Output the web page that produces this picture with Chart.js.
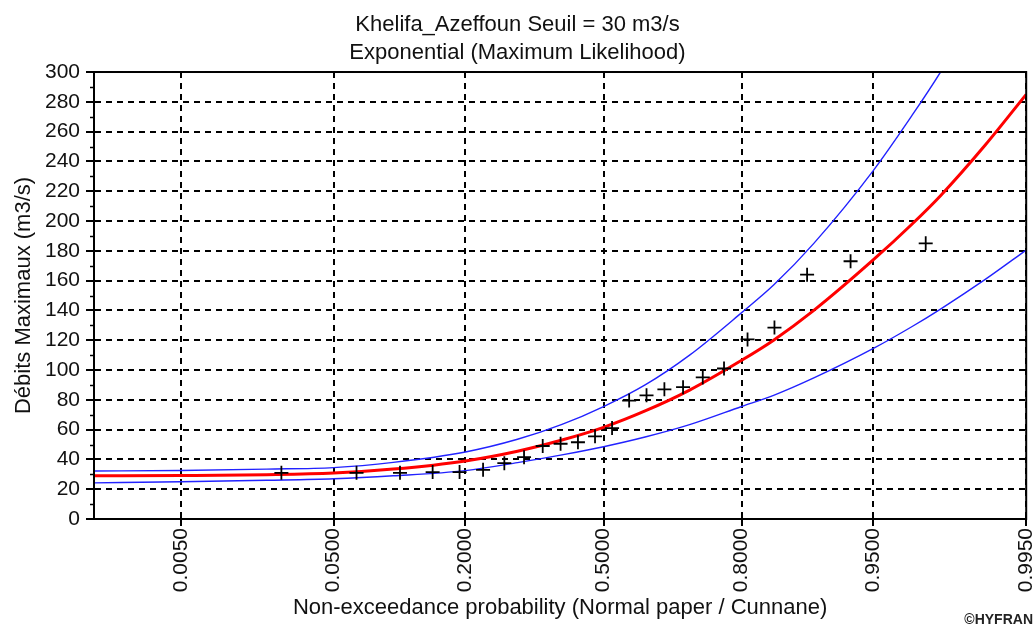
<!DOCTYPE html>
<html lang="fr">
<head>
<meta charset="UTF-8">
<title>Khelifa_Azeffoun - Exponential</title>
<style>
  html, body { margin: 0; padding: 0; background: #fff; }
  #chart { display: block; }
</style>
<script src="https://cdn.jsdelivr.net/npm/chart.js"></script>
</head>
<body>
<canvas id="chart" width="1035" height="627"></canvas>
<script>
const probTicks = [0.005, 0.05, 0.2, 0.5, 0.8, 0.95, 0.995];
const xRangeProb = [0.00095, 0.995];
const minorY = [10, 30, 50, 70, 90, 110, 130, 150, 170, 190, 210, 230, 250, 270, 290];

// observations (débits maximaux, m3/s)
const obsProb = [0.0248, 0.0661, 0.1074, 0.1488, 0.1901, 0.2314, 0.2727, 0.3140,
  0.3554, 0.3967, 0.4380, 0.4793, 0.5207, 0.5620, 0.6033, 0.6446,
  0.6860, 0.7273, 0.7686, 0.8099, 0.8512, 0.8926, 0.9339, 0.9752];
const obsFlow = [31, 31, 31, 31.5, 31.5, 33, 37.5, 41.5,
  49, 50.5, 51.5, 55.5, 61, 79.5, 83, 87,
  88.5, 95, 101, 120.5, 128.5, 164, 173, 185];

// courbe ajustée et intervalle de confiance
const curveProb = [0.0009, 0.005, 0.02, 0.05, 0.1, 0.2, 0.3, 0.4, 0.5, 0.6,
  0.7, 0.8, 0.85, 0.9, 0.95, 0.97, 0.98, 0.99, 0.995];
const fitted = [29, 29.2, 29.7, 30.8, 33.5, 39, 45.5, 53, 61.5, 72.5,
  86.5, 106.5, 120, 140, 174, 198, 217, 251, 285];
const upper = [32.2, 32.6, 33.5, 34.5, 38, 45, 53.5, 63.5, 75.5, 90,
  110, 138.5, 157, 185, 234, 271, 300, 351, 403];
const lower = [24.2, 25, 26, 27, 29, 32.5, 37.8, 43, 48.5, 55,
  63.3, 75.5, 83, 94.7, 114.5, 129.2, 140.9, 160.8, 180.5];

// quantile de la loi normale (Acklam) -> axe en papier normal
function probit(p) {
  const a = [-3.969683028665376e+01, 2.209460984245205e+02, -2.759285104469687e+02,
    1.383577518672690e+02, -3.066479806614716e+01, 2.506628277459239e+00];
  const b = [-5.447609879822406e+01, 1.615858368580409e+02, -1.556989798598866e+02,
    6.680131188771972e+01, -1.328068155288572e+01];
  const c = [-7.784894002430293e-03, -3.223964580411365e-01, -2.400758277161838e+00,
    -2.549732539343734e+00, 4.374664141464968e+00, 2.938163982698783e+00];
  const d = [7.784695709041462e-03, 3.224671290700398e-01, 2.445134137142996e+00,
    3.754408661907416e+00];
  const pl = 0.02425;
  let q, r;
  if (p < pl) {
    q = Math.sqrt(-2 * Math.log(p));
    return (((((c[0] * q + c[1]) * q + c[2]) * q + c[3]) * q + c[4]) * q + c[5]) /
      ((((d[0] * q + d[1]) * q + d[2]) * q + d[3]) * q + 1);
  }
  if (p > 1 - pl) {
    q = Math.sqrt(-2 * Math.log(1 - p));
    return -(((((c[0] * q + c[1]) * q + c[2]) * q + c[3]) * q + c[4]) * q + c[5]) /
      ((((d[0] * q + d[1]) * q + d[2]) * q + d[3]) * q + 1);
  }
  q = p - 0.5;
  r = q * q;
  return (((((a[0] * r + a[1]) * r + a[2]) * r + a[3]) * r + a[4]) * r + a[5]) * q /
    (((((b[0] * r + b[1]) * r + b[2]) * r + b[3]) * r + b[4]) * r + 1);
}

function toPoints(probs, values) {
  return probs.map((p, i) => ({ x: probit(p), y: values[i] }));
}

const FONT = '"Liberation Sans", Arial, sans-serif';
Chart.defaults.font.family = FONT;
Chart.defaults.color = '#111';

// cadre complet autour de la zone de tracé
const framePlugin = {
  id: 'frame',
  afterDatasetsDraw(chart) {
    const { ctx, chartArea: a } = chart;
    ctx.save();
    ctx.strokeStyle = '#000';
    ctx.lineWidth = 2;
    ctx.strokeRect(a.left, a.top, a.right - a.left, a.bottom - a.top);
    ctx.restore();
  }
};

// petites graduations intermédiaires sur l'axe des débits
const minorTickPlugin = {
  id: 'minorTicks',
  afterDraw(chart) {
    const { ctx, chartArea: a } = chart;
    const y = chart.scales.y;
    ctx.save();
    ctx.strokeStyle = '#000';
    ctx.lineWidth = 1.5;
    minorY.forEach((v) => {
      const py = Math.round(y.getPixelForValue(v)) + 0.5;
      ctx.beginPath();
      ctx.moveTo(a.left - 4, py);
      ctx.lineTo(a.left, py);
      ctx.stroke();
    });
    ctx.restore();
  }
};

const stampPlugin = {
  id: 'stamp',
  afterDraw(chart) {
    const ctx = chart.ctx;
    ctx.save();
    ctx.font = 'bold 14px ' + FONT;
    ctx.fillStyle = '#222';
    ctx.textAlign = 'right';
    ctx.textBaseline = 'middle';
    ctx.fillText('\u00A9HYFRAN', 1033, 620);
    ctx.restore();
  }
};

new Chart(document.getElementById('chart').getContext('2d'), {
  type: 'scatter',
  data: {
    datasets: [
      {
        label: 'Observations',
        data: toPoints(obsProb, obsFlow),
        pointStyle: 'cross',
        pointRadius: 7,
        pointBorderWidth: 1.8,
        borderColor: '#000',
        backgroundColor: '#000',
        showLine: false,
        order: 0
      },
      {
        label: 'Exponential',
        data: toPoints(curveProb, fitted),
        showLine: true,
        borderColor: '#ff0000',
        borderWidth: 3,
        pointRadius: 0,
        cubicInterpolationMode: 'monotone',
        clip: 0,
        order: 1
      },
      {
        label: 'Borne supérieure',
        data: toPoints(curveProb, upper),
        showLine: true,
        borderColor: '#2222ff',
        borderWidth: 1.4,
        pointRadius: 0,
        cubicInterpolationMode: 'monotone',
        clip: 0,
        order: 2
      },
      {
        label: 'Borne inférieure',
        data: toPoints(curveProb, lower),
        showLine: true,
        borderColor: '#2222ff',
        borderWidth: 1.4,
        pointRadius: 0,
        cubicInterpolationMode: 'monotone',
        clip: 0,
        order: 2
      }
    ]
  },
  options: {
    responsive: false,
    animation: false,
    devicePixelRatio: 1,
    layout: { padding: 0 },
    plugins: {
      legend: { display: false },
      tooltip: { enabled: false },
      title: {
        display: true,
        text: ['Khelifa_Azeffoun Seuil = 30 m3/s', 'Exponential (Maximum Likelihood)'],
        color: '#111',
        font: { size: 22, weight: 'normal', lineHeight: 1.273 },
        padding: { top: 11, bottom: 5 }
      }
    },
    scales: {
      x: {
        type: 'linear',
        min: probit(xRangeProb[0]),
        max: probit(xRangeProb[1]),
        afterBuildTicks: (scale) => {
          scale.ticks = probTicks.map((p) => ({ value: probit(p) }));
        },
        afterFit: (scale) => {
          scale.height = 108;
          scale.paddingLeft = 0;
          scale.paddingRight = 8;
        },
        ticks: {
          autoSkip: false,
          minRotation: 90,
          maxRotation: 90,
          padding: 2,
          color: '#111',
          font: { size: 21 },
          callback: (v, i) => probTicks[i].toFixed(4)
        },
        grid: { color: '#000', lineWidth: 2, tickLength: 7, tickColor: '#000', tickWidth: 2 },
        border: { display: true, color: '#000', width: 2, dash: [6, 5] },
        title: {
          display: true,
          text: 'Non-exceedance probability (Normal paper / Cunnane)',
          color: '#111',
          font: { size: 22 },
          padding: { top: 0, bottom: 6 }
        }
      },
      y: {
        min: 0,
        max: 300,
        afterFit: (scale) => { scale.width = 94; },
        ticks: { stepSize: 20, padding: 6, color: '#111', font: { size: 21 } },
        grid: { color: '#000', lineWidth: 2, tickLength: 8, tickColor: '#000', tickWidth: 2 },
        border: { display: true, color: '#000', width: 2, dash: [6, 5] },
        title: {
          display: true,
          text: 'Débits Maximaux (m3/s)',
          color: '#111',
          font: { size: 22 },
          padding: { top: 11, bottom: 0 }
        }
      }
    }
  },
  plugins: [framePlugin, minorTickPlugin, stampPlugin]
});
</script>
</body>
</html>
